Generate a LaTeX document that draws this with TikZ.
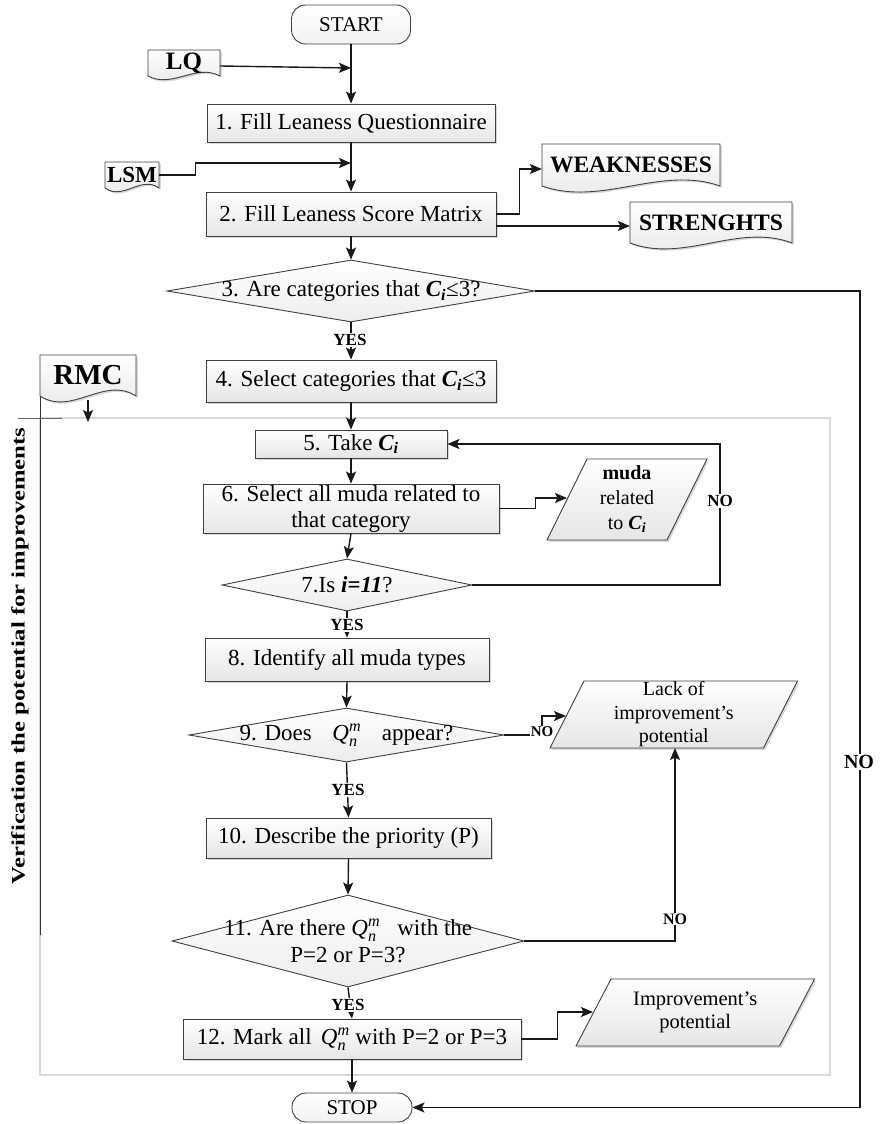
\documentclass[tikz,border=0pt]{standalone}
\usepackage{fontspec}
\usepackage{amsmath}
\usepackage{graphicx}
\setmainfont{Liberation Serif}
\usetikzlibrary{arrows.meta,shapes.geometric,shadows,calc}

\newcommand{\mainsz}{\fontsize{23}{26}\selectfont}
\newcommand{\termsz}{\fontsize{21}{21}\selectfont}
\newcommand{\Qnm}{$\textit{Q}^{\textit{m}}_{\textit{n}}$}
\newcommand{\Ci}{\textbf{\textit{C\textsubscript{i}}}}

\tikzset{
  gradfill/.style={top color=white, bottom color=black!10},
  softshadow/.style={drop shadow={shadow xshift=1.8pt, shadow yshift=-1.8pt, opacity=0.25, fill=black!60}},
  outline/.style={draw=black!75, line width=0.9pt},
  procbox/.style={rectangle, outline, gradfill, softshadow, align=center, inner sep=0pt, font=\mainsz},
  terminal/.style={rectangle, rounded corners=14pt, outline, top color=white, bottom color=black!5, inner sep=0pt, font=\termsz},
  decision/.style={diamond, outline, top color=white, bottom color=black!7, inner sep=0pt},
  dectext/.style={align=center, inner sep=0pt, font=\mainsz},
  docpath/.style={outline, gradfill, softshadow},
  doctext/.style={inner sep=0pt},
  iopath/.style={outline, gradfill, softshadow},
  iotext/.style={align=center, inner sep=0pt},
  flow/.style={line width=1.4pt, draw=black!90, -{Stealth[length=12pt,width=10pt,inset=2.5pt]}},
  yeslab/.style={fill=white, inner sep=1pt, font=\bfseries\fontsize{17}{17}\selectfont},
  nolab/.style={fill=white, inner sep=1pt, font=\bfseries\fontsize{#1}{#1}\selectfont},
}

% document symbol: name, cx, cy, w, h, font, text
\newcommand{\docbox}[7]{%
  \path[docpath] (#2-#4/2,#3-#5/2) -- (#2+#4/2,#3-#5/2) -- (#2+#4/2,#3+#5/2)
    .. controls (#2+#4/6,#3) and (#2-#4/6,#3+#5) .. (#2-#4/2,#3+#5/2) -- cycle;
  \node[doctext, font=#6, minimum width=#4pt, minimum height=#5pt] (#1) at (#2,#3) {#7};
}
% data symbol (parallelogram): name, cx, cy, w, h, slant, font, text
\newcommand{\iobox}[8]{%
  \path[iopath] (#2-#4/2+#6/2,#3-#5/2) -- (#2+#4/2+#6/2,#3-#5/2) -- (#2+#4/2-#6/2,#3+#5/2) -- (#2-#4/2-#6/2,#3+#5/2) -- cycle;
  \node[iotext, font=#7] (#1) at (#2,#3) {#8};
}

\begin{document}
\begin{tikzpicture}[x=1pt,y=-1pt]
\useasboundingbox (0,0) rectangle (880,1124);

% swimlane frame
\draw[draw=black!15, line width=1.5pt] (40,418) rectangle (830,1075);
\draw[line width=1pt, draw=black!80] (40,396) -- (40,935);
\draw[line width=1pt, draw=black!60] (18,418) -- (62,418);
\node[rotate=90, inner sep=0pt, font=\bfseries\fontsize{19}{19}\selectfont] (lane) at (20,656)
  {\scalebox{1.3}[1]{Verification the potential for improvements}};

% terminals and process steps
\node[terminal, minimum width=119pt, minimum height=39pt] (start) at (351,24.5) {START};
\docbox{lq}{184}{63}{72}{26}{\bfseries\fontsize{25}{25}\selectfont}{LQ}
\node[procbox, minimum width=288pt, minimum height=38pt] (b1) at (351,123) {1. Fill Leaness Questionnaire};
\docbox{lsm}{132}{175}{54}{26}{\bfseries\fontsize{23}{23}\selectfont}{LSM}
\node[procbox, minimum width=290pt, minimum height=44pt] (b2) at (351,214) {2. Fill Leaness Score Matrix};
\docbox{weak}{631}{165}{178}{42}{\bfseries\fontsize{23.5}{23.5}\selectfont}{WEAKNESSES}
\docbox{streng}{711}{222.5}{162}{41}{\bfseries\fontsize{23.5}{23.5}\selectfont}{STRENGHTS}

\node[decision, minimum width=368pt, minimum height=62pt] (d3) at (351,291) {};
\node[dectext] (d3t) at (d3) {3. Are categories that \Ci≤3?};

\node[procbox, minimum width=290pt, minimum height=42pt] (b4) at (351,381) {4. Select categories that \Ci≤3};
\docbox{rmc}{88}{375.5}{96}{41}{\bfseries\fontsize{29}{29}\selectfont}{RMC}

\node[procbox, minimum width=192pt, minimum height=28pt] (b5) at (351,444) {5. Take \Ci};
\node[procbox, minimum width=296pt, minimum height=49pt] (b6) at (351,508.5) {6. Select all muda related to\\that category};
\iobox{muda}{627}{499.5}{120}{81}{40}{\fontsize{20}{25}\selectfont}{\textbf{muda}\\related\\to \Ci}

\node[decision, minimum width=250pt, minimum height=52pt] (d7) at (347,585) {};
\node[dectext] (d7t) at (d7) {7.Is \textbf{\textit{i=11}}?};

\node[procbox, minimum width=284pt, minimum height=43pt] (b8) at (347,659.5) {8. Identify all muda types};

\node[decision, minimum width=315pt, minimum height=54pt] (d9) at (346.5,735) {};
\node[dectext] (d9t) at (d9) {9. Does\hspace{0.9em}\Qnm\hspace{0.9em}appear?};
\iobox{lack}{673.75}{714.5}{213.5}{67}{34}{\fontsize{20}{23.5}\selectfont}{Lack of\\improvement’s\\potential}

\node[procbox, minimum width=285pt, minimum height=40pt] (b10) at (348.5,838) {10. Describe the priority (P)};

\node[decision, minimum width=352pt, minimum height=92pt] (d11) at (348,941) {};
\node[dectext, font=\fontsize{23}{27}\selectfont] (d11t) at (d11) {11. Are there \Qnm\hspace{0.5em} with the\\P=2 or P=3?};

\node[procbox, minimum width=338pt, minimum height=40pt] (b12) at (352,1039) {12. Mark all\hspace{0.4em}\Qnm{} with P=2 or P=3};
\iobox{imp}{695.25}{1012.5}{203.5}{67}{35}{\fontsize{20.5}{22.5}\selectfont}{Improvement’s\\potential}

\node[terminal, minimum width=120pt, minimum height=29pt] (stop) at (352,1107.5) {STOP};

% connector end points
\coordinate (j1) at (351,68);
\coordinate (j2) at (351,163);
\coordinate (rt) at (860,700);
\coordinate (rmcEnd) at (88,422);
\coordinate (mudaIn) at (567,498);
\coordinate (lp) at (720,520);
\coordinate (lackIn) at (566,716);
\coordinate (lackOut) at (675,748);
\coordinate (impIn) at (593,1012);
\coordinate (s2) at ($(b2.east)+(0,12)$);

% connectors
\draw[flow] (start.south) -- (b1.north);
\draw[flow] ($(lq.east)+(0,3)$) -- (j1);
\draw[flow] (lsm.east) -- ++(36,0) |- (j2);
\draw[flow] (b1.south) -- (b2.north);
\draw[flow] (b2.east) -- ++(23,0) |- ($(weak.west)+(0,4)$);
\draw[flow] (s2) -- (s2 -| streng.west);
\draw[flow] (b2.south) -- (d3.north);
\draw[flow] (d3.south) -- (b4.north);
\draw[flow] (d3.east) -| (rt) |- (stop.east);
\draw[flow] (b4.south) -- (b5.north);
\draw[flow] ($(rmc.south)+(0,4)$) -- (rmcEnd);
\draw[flow] (b5.south) -- (b6.north);
\draw[flow] (b6.south) -- (d7.north);
\draw[flow] (b6.east) -- ++(36,0) |- (mudaIn);
\draw[flow] (d7.east) -| (lp) |- (b5.east);
\draw[flow] (d7.south) -- (b8.north);
\draw[flow] (b8.south) -- (d9.north);
\draw[flow] (d9.east) -| ($(lackIn)+(-24,0)$) -- (lackIn);
\draw[flow] (d9.south) -- (b10.north);
\draw[flow] (b10.south) -- (d11.north);
\draw[flow] (d11.east) -| (lackOut);
\draw[flow] (d11.south) -- (b12.north);
\draw[flow] (b12.east) -- ++(36,0) |- (impIn);
\draw[flow] (b12.south) -- (stop.north);

% branch labels
\node[yeslab] (y3) at (350,340) {YES};
\node[yeslab] (y7) at (347,625) {YES};
\node[yeslab] (y9) at (348,790) {YES};
\node[yeslab] (y11) at (348,1005) {YES};
\node[nolab=20] (n3) at (859,762) {NO};
\node[nolab=17] (n7) at (720,501) {NO};
\node[nolab=15] (n9) at (542,732) {NO};
\node[nolab=16] (n11) at (675,919) {NO};
\end{tikzpicture}
\end{document}
